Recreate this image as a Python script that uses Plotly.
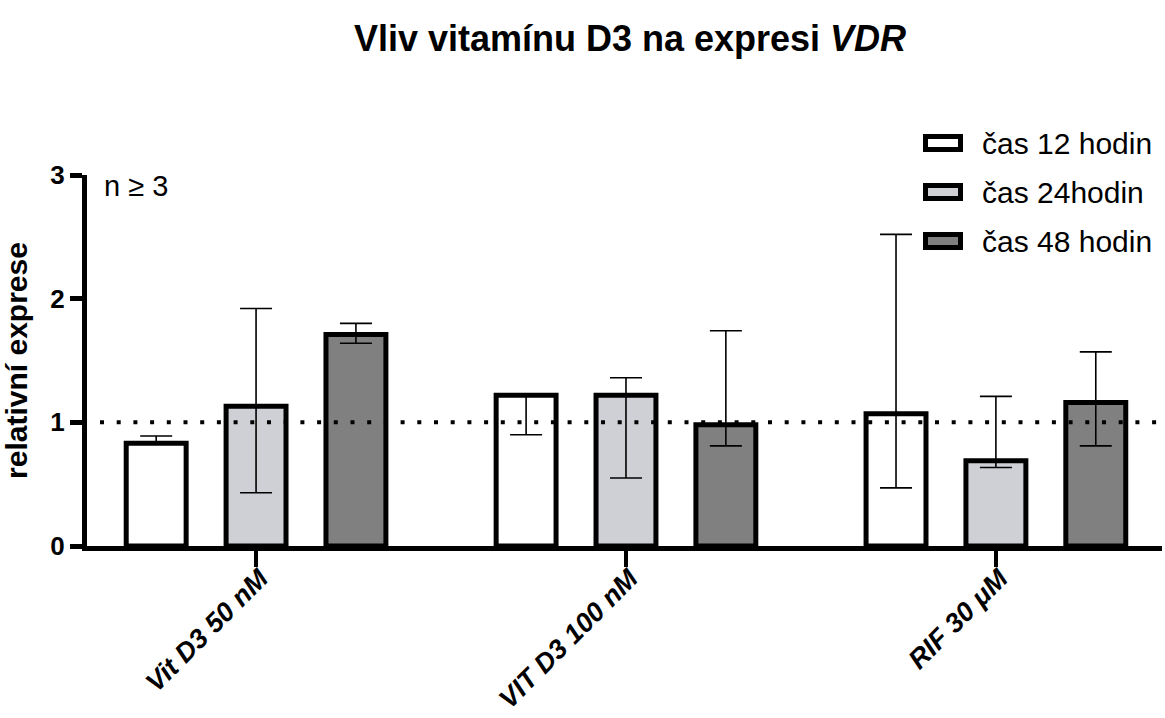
import plotly.graph_objects as go

# ---- data ----
categories = ["Vit D3 50 nM", "VIT D3 100 nM", "RIF 30 μM"]
series_names = ["čas 12 hodin", "čas 24hodin", "čas 48 hodin"]
mean_12h = [0.83, 1.22, 1.07]
err_up_12h = [0.06, 0.01, 1.45]
err_dn_12h = [0.0, 0.32, 0.60]
mean_24h = [1.13, 1.22, 0.69]
err_up_24h = [0.79, 0.14, 0.52]
err_dn_24h = [0.70, 0.67, 0.055]
mean_48h = [1.71, 0.98, 1.16]
err_up_48h = [0.09, 0.76, 0.41]
err_dn_48h = [0.07, 0.17, 0.35]
y_ticks = [0, 1, 2, 3]
reference_level = 1

colors = ["#ffffff", "#cfd0d5", "#808080"]
means = [mean_12h, mean_24h, mean_48h]
ups = [err_up_12h, err_up_24h, err_up_48h]
dns = [err_dn_12h, err_dn_24h, err_dn_48h]

W, H = 1165, 718
ML, MR, MT, MB = 87, 3, 175, 172
PW, PH = W - ML - MR, H - MT - MB

def px_x(px):
    return (px - ML) / PW

def px_y(py):
    return (H - MB - py) / PH

FONT = "Liberation Sans, Arial, Helvetica, sans-serif"

fig = go.Figure()
for name, col, m, u, d in zip(series_names, colors, means, ups, dns):
    fig.add_trace(go.Bar(
        x=categories, y=m, name=name,
        marker=dict(color=col, line=dict(color="black", width=5)),
        error_y=dict(type="data", symmetric=False, array=u, arrayminus=d,
                     color="black", thickness=1.6, width=16),
        showlegend=False,
    ))

# reference line at 1
fig.add_shape(type="line", xref="paper", yref="y",
              x0=px_x(100), x1=1.0, y0=reference_level, y1=reference_level,
              line=dict(color="black", width=4, dash="4px,12.7px"), layer="above")

# manual legend
leg_centers = [143, 192, 241]
for name, col, cy in zip(series_names, colors, leg_centers):
    fig.add_shape(type="rect", xref="paper", yref="paper",
                  x0=px_x(925.5), x1=px_x(960.5), y0=px_y(cy - 6.5), y1=px_y(cy + 6.5),
                  line=dict(color="black", width=5), fillcolor=col)
    fig.add_annotation(xref="paper", yref="paper", x=px_x(980), y=px_y(cy),
                       xanchor="left", yanchor="middle", text=name, showarrow=False,
                       font=dict(family=FONT, size=30, color="black"))

fig.add_annotation(xref="paper", yref="paper", x=px_x(102), y=px_y(186),
                   xanchor="left", yanchor="middle", text="n ≥ 3", showarrow=False,
                   font=dict(family=FONT, size=29, color="black"))

fig.update_layout(
    width=W, height=H,
    margin=dict(l=ML, r=MR, t=MT, b=MB, autoexpand=False),
    paper_bgcolor="white", plot_bgcolor="white",
    barmode="group", bargap=0.19, bargroupgap=0.40,
    title=dict(text="<b>Vliv vitamínu D3 na expresi <i>VDR</i></b>",
               x=px_x(630), xref="paper", xanchor="center",
               y=1 - 38 / H, yref="container", yanchor="middle",
               font=dict(family=FONT, size=36, color="black")),
    font=dict(family=FONT, color="black"),
    xaxis=dict(range=[-0.457, 2.449], showline=True, linecolor="black", linewidth=5,
               ticks="outside", ticklen=16, tickwidth=4, tickcolor="black",
               tickangle=-45, showgrid=False, zeroline=False, automargin=False,
               ticklabelshift=4, ticklabelstandoff=-15,
               tickfont=dict(family=FONT, size=27, color="black", weight="bold", style="italic")),
    yaxis=dict(range=[0, 3], tickvals=y_ticks, showline=True, linecolor="black", linewidth=5,
               ticks="outside", ticklen=12, tickwidth=5, tickcolor="black",
               showgrid=False, zeroline=False, automargin=False,
               tickfont=dict(family=FONT, size=26, color="black", weight="bold"),
               title=dict(text="relativní exprese",
                          font=dict(family=FONT, size=30, color="black", weight="bold"))),
)

fig.write_html("out.html", config={"displayModeBar": False},
               post_script="document.body.style.margin='0';document.body.style.padding='0';")
